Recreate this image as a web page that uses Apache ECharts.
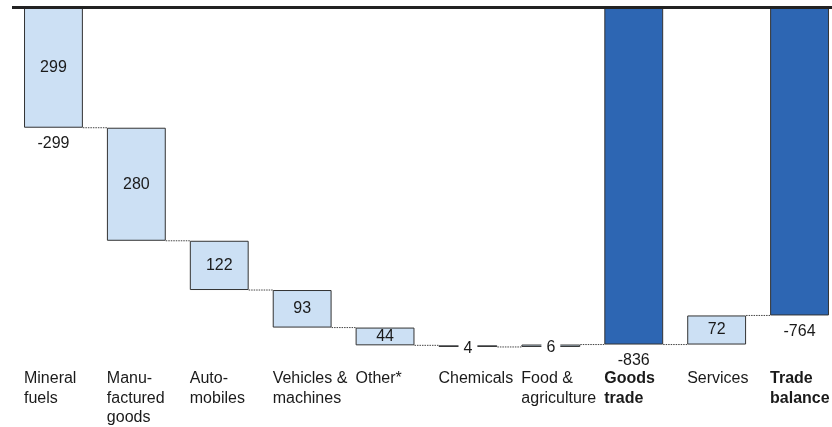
<!DOCTYPE html>
<html>
<head>
<meta charset="utf-8">
<script src="https://cdn.jsdelivr.net/npm/echarts@6/dist/echarts.min.js"></script>
<style>
  html, body { margin: 0; padding: 0; background: #fff; overflow: hidden; }
  #chart { width: 841px; height: 427px; }
</style>
</head>
<body>
<div id="chart"></div>
<script>
// Trade balance waterfall: contributions by product group (signed changes)
const categories = [
  'Mineral\nfuels', 'Manu-\nfactured\ngoods', 'Auto-\nmobiles', 'Vehicles &\nmachines',
  'Other*', 'Chemicals', 'Food &\nagriculture', 'Goods\ntrade', 'Services', 'Trade\nbalance'
];
const steps  = [-299, -280, -122, -93, -44, -4, 6, null, 72, null];
const totals = [null, null, null, null, null, null, null, -836, null, -764];
const totalCategories = ['Goods\ntrade', 'Trade\nbalance'];
const levelLabelIndex = [0, 7, 9];

const FONT = 'Liberation Sans, Arial, Helvetica, sans-serif';
const TEXT = '#1a1a1a';
const LIGHT = '#cce0f4';
const DARK = '#2d66b3';
const EDGE = '#333333';
const FS = 16;

// Build floating bars: an invisible base plus the visible span
const baseData = [];
const spanData = [];
const levels = [];
let running = 0;
categories.forEach((c, i) => {
  if (totals[i] !== null) {
    baseData.push(0);
    spanData.push({
      value: totals[i],
      itemStyle: { color: DARK, borderColor: EDGE, borderWidth: 1 },
      label: { show: false }
    });
    running = totals[i];
  } else {
    const start = running;
    const end = running + steps[i];
    const upper = Math.max(start, end);
    const lower = Math.min(start, end);
    baseData.push(upper);
    const small = Math.abs(steps[i]) < 10;
    spanData.push({
      value: lower - upper,
      itemStyle: { color: LIGHT, borderColor: EDGE, borderWidth: 1 },
      label: {
        show: true,
        formatter: String(Math.abs(steps[i])),
        backgroundColor: small ? '#ffffff' : 'transparent',
        padding: small ? [0, 5] : 0,
        offset: small ? [0, 2] : [0, 0]
      }
    });
    running = end;
  }
  levels.push(running);
});

const connectorData = [];
for (let i = 0; i < levels.length - 1; i++) connectorData.push([i, levels[i]]);
const levelLabels = levelLabelIndex.map(i => [i, levels[i]]);

const BAR_FRACTION = 0.71;

const chart = echarts.init(document.getElementById('chart'));
chart.setOption({
  animation: false,
  textStyle: { fontFamily: FONT },
  grid: { left: 12, right: 0, top: 7, bottom: 64.7, containLabel: false },
  xAxis: {
    type: 'category',
    data: categories,
    axisLine: { show: false, onZero: false },
    axisTick: { show: false },
    splitLine: { show: false },
    axisLabel: {
      interval: 0,
      hideOverlap: false,
      margin: 7,
      formatter: function (v) {
        const key = totalCategories.indexOf(v) >= 0 ? 'b' : 'n';
        return v.split('\n').map(l => '{' + key + '|' + l + '}').join('\n');
      },
      rich: {
        n: { width: 59, align: 'left', fontSize: FS, lineHeight: 19.5, color: TEXT, fontFamily: FONT },
        b: { width: 59, align: 'left', fontSize: FS, lineHeight: 19.5, color: TEXT, fontFamily: FONT, fontWeight: 'bold' }
      }
    }
  },
  yAxis: {
    type: 'value',
    min: -880,
    max: 0,
    show: false,
    splitLine: { show: false }
  },
  series: [
    {
      name: 'base',
      type: 'bar',
      stack: 'w',
      stackStrategy: 'all',
      barWidth: (BAR_FRACTION * 100) + '%',
      itemStyle: { color: 'rgba(0,0,0,0)', borderWidth: 0 },
      silent: true,
      data: baseData,
      markLine: {
        silent: true,
        symbol: ['none', 'none'],
        z: 10,
        label: { show: false },
        lineStyle: { color: '#222222', width: 3, type: 'solid' },
        data: [{ yAxis: 0 }]
      }
    },
    {
      name: 'change',
      type: 'bar',
      stack: 'w',
      stackStrategy: 'all',
      barWidth: (BAR_FRACTION * 100) + '%',
      label: {
        position: 'inside',
        fontSize: FS,
        color: TEXT,
        fontFamily: FONT
      },
      data: spanData
    },
    {
      name: 'connectors',
      type: 'custom',
      silent: true,
      z: 1,
      data: connectorData,
      renderItem: function (params, api) {
        const i = api.value(0);
        const lvl = api.value(1);
        const a = api.coord([i, lvl]);
        const b = api.coord([i + 1, lvl]);
        const half = api.size([1, 0])[0] * BAR_FRACTION / 2;
        return {
          type: 'line',
          shape: { x1: a[0] + half, y1: a[1], x2: b[0] - half, y2: b[1] },
          style: { stroke: '#444444', lineWidth: 1, lineDash: [1.5, 1] }
        };
      }
    },
    {
      name: 'levels',
      type: 'scatter',
      symbolSize: 0,
      silent: true,
      itemStyle: { opacity: 1 },
      data: levelLabels,
      label: {
        show: true,
        position: 'bottom',
        distance: 8,
        fontSize: FS,
        color: TEXT,
        opacity: 1,
        fontFamily: FONT,
        formatter: p => String(p.value[1])
      }
    }
  ]
});
</script>
</body>
</html>
